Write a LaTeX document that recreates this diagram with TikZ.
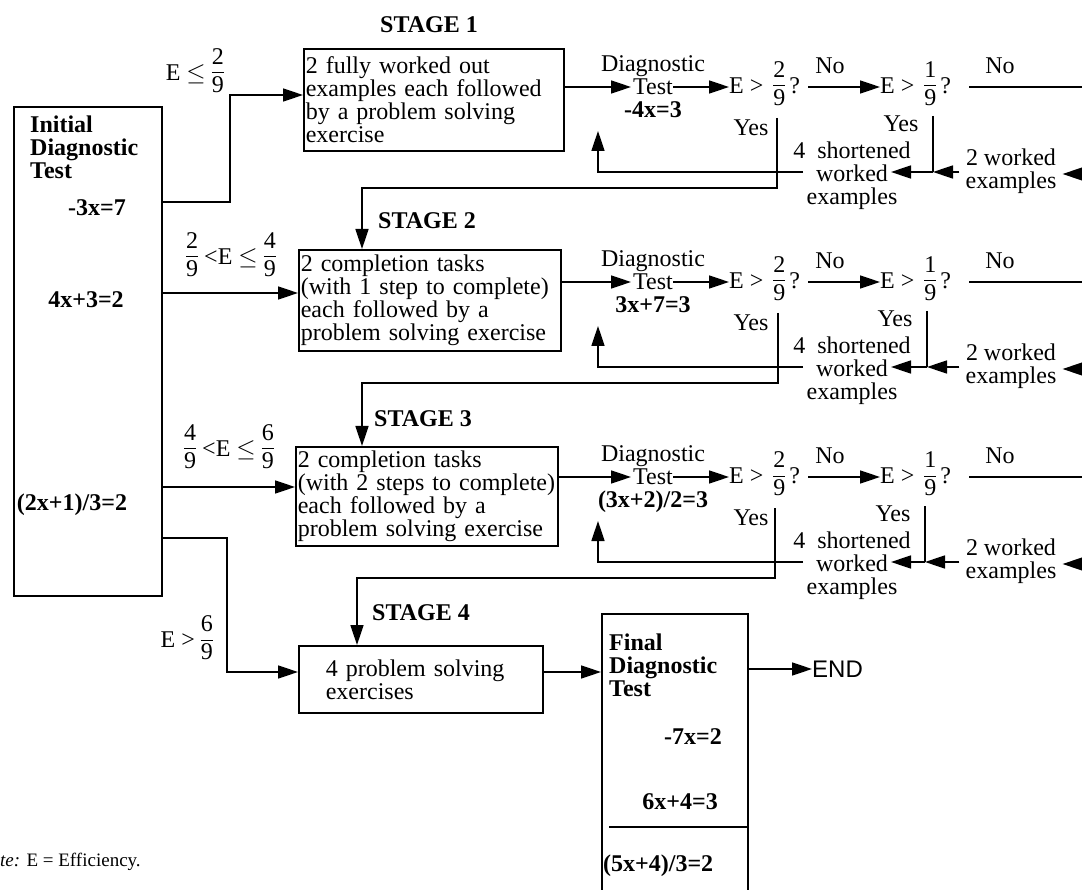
\documentclass[tikz,border=0pt]{standalone}
\usepackage{fontspec}
\setmainfont{Liberation Serif}
\newfontfamily\sansf{Liberation Sans}
\usetikzlibrary{arrows.meta}
\newcommand\fr[2]{\ensuremath{\vcenter{\hbox{\setlength\arrayrulewidth{1pt}\setlength\tabcolsep{0pt}\begin{tabular}{c}#1\\[1pt]\hline\noalign{\vskip 3pt}#2\end{tabular}}}}}
\tikzset{
  every node/.style={inner sep=0pt, font=\fontsize{24}{23}\selectfont},
  ln/.style={line width=1.6pt},
  arr/.style={line width=1.6pt, -{Triangle[length=20pt,width=13pt]}},
  bx/.style={draw, line width=1.6pt, inner sep=0pt},
}
\begin{document}
\begin{tikzpicture}[x=1pt,y=-1pt]
\useasboundingbox (0,0) rectangle (1082,890);
\clip (0,0) rectangle (1082,890);
\fill[white] (0,0) rectangle (1082,890);

% initial box
\node[bx, anchor=north west, minimum width=148, minimum height=489] (init) at (13,106) {};
\node[anchor=west, align=left] (initT) at (30,147) {\bfseries Initial\\\bfseries Diagnostic\\\bfseries Test};
\node (ie1) at (97,208) {\bfseries -3x=7};
\node (ie2) at (86,300) {\bfseries 4x+3=2};
\node (ie3) at (72,505) {\bfseries (2x+1)/3=2};

% stage boxes
\node[bx, anchor=north west, text width=256, align=left, inner xsep=2, minimum height=102] (st1) at (303,48)
  {2 fully worked out\\\mbox{examples each followed}\\by a problem solving\\exercise};
\node[bx, anchor=north west, text width=258, align=left, inner xsep=2, minimum height=101] (st2) at (298,249)
  {2 completion tasks\\\mbox{(with 1 step to complete)}\\each followed by a\\\mbox{problem solving exercise}};
\node[bx, anchor=north west, text width=258, align=left, inner xsep=2, minimum height=99] (st3) at (295,446)
  {2 completion tasks\\\mbox{(with 2 steps to complete)}\\each followed by a\\\mbox{problem solving exercise}};
\node[bx, anchor=north west, text width=190, align=left, inner xsep=27, minimum height=67] (st4) at (298,645)
  {4 problem solving\\exercises};

\node[anchor=west] (lab1) at (380,25) {\bfseries STAGE 1};
\node[anchor=west] (lab2) at (378,221) {\bfseries STAGE 2};
\node[anchor=west] (lab3) at (374,419) {\bfseries STAGE 3};
\node[anchor=west] (lab4) at (372,613) {\bfseries STAGE 4};

% condition labels
\node[anchor=east] (c1) at (224,74) {E $\le$ \fr{2}{9}};
\node (c2) at (231,258) {\fr{2}{9} <E $\le$ \fr{4}{9}};
\node (c3) at (229,450) {\fr{4}{9} <E $\le$ \fr{6}{9}};
\node[anchor=east] (c4) at (213,641) {E > \fr{6}{9}};

% connectors from initial box
\coordinate (j1) at (230,202);
\coordinate (j1b) at (230,95);
\draw[arr] (init.east |- j1) -- (j1) -- (j1b) -- (st1.west |- j1b);
\coordinate (j2) at (200,293);
\draw[arr] (init.east |- j2) -- (st2.west |- j2);
\coordinate (j3) at (200,487);
\draw[arr] (init.east |- j3) -- (st3.west |- j3);
\coordinate (j4) at (227,538);
\coordinate (j4b) at (227,672);
\draw[arr] (init.east |- j4) -- (j4) -- (j4b) -- (st4.west |- j4b);

% rows
\foreach \r/\o/\eq/\va/\vb/\dx in {1/0/{-4x=3}/777/933/362, 2/195/{3x+7=3}/778/927/362, 3/390/{(3x+2)/2=3}/775/925/357}{
  \pgfmathtruncatemacro\nx{\r+1}
  \node[align=center] (dg\r) at (653,90+\o) {Diagnostic\\Test\\\bfseries\strut\eq};
  \coordinate (tsw\r) at (631,87+\o);
  \coordinate (tse\r) at (673,87+\o);
  \draw[arr] (st\r.east |- tsw\r) -- (tsw\r);
  \node[anchor=west] (ca\r) at (729,87+\o) {E > \,\fr{2}{9}\,?};
  \draw[arr] (tse\r) -- (ca\r.west);
  \node (na\r) at (830,66+\o) {No};
  \node[anchor=west] (cb\r) at (880,87+\o) {E > \,\fr{1}{9}\,?};
  \draw[arr] ([xshift=8pt]ca\r.east) -- (cb\r.west);
  \node (nb\r) at (1000,66+\o) {No};
  \coordinate (ex\r) at (1095,87+\o);
  \draw[ln] ([xshift=18pt]cb\r.east) -- (ex\r);
  \node (ya\r) at (751,128+\o) {Yes};
  \node (yb\r) at (\vb-32,124+\o) {Yes};
  \coordinate (v1t\r) at (\va,118+\o);
  \coordinate (v1b\r) at (\va,188+\o);
  \coordinate (v2t\r) at (\vb,116+\o);
  \coordinate (v2b\r) at (\vb,172+\o);
  \node[align=center] (sw\r) at (852,176+\o) {4\enspace shortened\\worked\\examples};
  \coordinate (wke\r) at (891,172+\o);
  \coordinate (wkw\r) at (803,172+\o);
  \node[align=center, inner xsep=6pt] (tw\r) at (1011,171+\o) {2 worked\\examples};
  \coordinate (in\r) at (1095,174+\o);
  \draw[arr] (in\r) -- (tw\r.east |- in\r);
  \draw[arr] (tw\r.west |- v2b\r) -- (v2b\r);
  \draw[ln] (v2t\r) -- (v2b\r);
  \draw[arr] (v2b\r) -- (wke\r);
  \coordinate (lp\r) at (598,172+\o);
  \coordinate (lt\r) at (598,131+\o);
  \draw[arr] (wkw\r) -- (lp\r) -- (lt\r);
  \coordinate (dn\r) at (\dx,188+\o);
  \draw[arr] (v1t\r) -- (v1b\r) -- (dn\r) -- (dn\r |- st\nx.north);
}

% final box
\node[bx, anchor=north west, minimum width=146, minimum height=320] (fin) at (601,613) {};
\draw[arr] (st4.east |- j4b) -- (fin.west |- j4b);
\node[anchor=west, align=left] (finT) at (609,665) {\bfseries Final\\\bfseries Diagnostic\\\bfseries Test};
\node[anchor=east] (f1) at (722,737) {\bfseries -7x=2};
\node[anchor=east] (f2) at (718,802) {\bfseries 6x+4=3};
\coordinate (fl) at (609,827);
\draw[ln] (fl) -- (fin.east |- fl);
\node[anchor=west] (f3) at (603,866) {\bfseries (5x+4)/3=2};
\node[anchor=west, font=\sansf\fontsize{24}{23}\selectfont] (end) at (812,669) {END};
\draw[arr] (fin.east |- end) -- (end.west);

% note
\node[anchor=west, font=\fontsize{19}{22}\selectfont] (note) at (0,862) {\textit{te:} E = Efficiency.};
\end{tikzpicture}
\end{document}
